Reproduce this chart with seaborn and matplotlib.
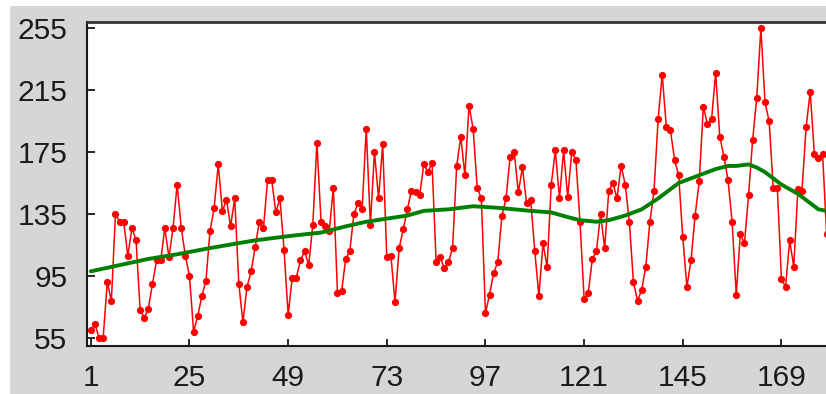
import matplotlib
matplotlib.use("Agg")
import matplotlib.pyplot as plt
from matplotlib.patches import Rectangle
import seaborn as sns
import pandas as pd

# Monthly observations (index 1..180)
values = [
    60, 64, 55, 55, 91, 79, 135, 130, 130, 108, 126, 118,
    73, 68, 74, 90, 105, 105, 126, 107, 126, 154, 126, 108,
    95, 59, 69, 82, 92, 124, 139, 167, 137, 144, 127, 145,
    90, 65, 88, 98, 114, 130, 126, 157, 157, 136, 145, 112,
    70, 94, 94, 105, 111, 102, 128, 181, 130, 127, 124, 152,
    84, 85, 106, 111, 135, 142, 138, 190, 128, 175, 145, 180,
    107, 108, 78, 113, 125, 138, 150, 149, 147, 167, 162, 168,
    104, 107, 100, 104, 113, 166, 185, 160, 205, 190, 152, 145,
    71, 83, 97, 104, 134, 145, 172, 175, 149, 165, 142, 144,
    111, 82, 116, 101, 154, 176, 145, 176, 146, 175, 170, 130,
    80, 84, 106, 111, 135, 113, 150, 155, 145, 166, 154, 130,
    91, 79, 86, 101, 130, 150, 196, 225, 191, 189, 170, 160,
    120, 88, 105, 134, 156, 204, 193, 196, 226, 185, 172, 157,
    130, 83, 122, 116, 147, 183, 210, 255, 207, 195, 152, 152,
    93, 88, 118, 101, 151, 150, 191, 214, 174, 171, 174, 122,
]
index = list(range(1, len(values) + 1))

# Smoothed trend, sampled along the series
trend_index = [1, 8, 15, 22, 30, 41, 50, 57, 63, 68, 73, 78, 82, 88, 94,
               100, 104, 108, 113, 117, 120, 124, 127, 131, 135, 139, 141,
               144, 149, 153, 156, 158, 161, 163, 165, 167, 169, 171, 173,
               176, 178, 180]
trend_values = [98, 102, 106, 109, 113, 118, 121, 123, 127, 130, 132, 134,
                137, 138, 140, 139, 138, 137, 136, 133, 131, 130, 131, 134,
                138, 145, 149, 155, 160, 164, 166, 166, 167, 165, 162, 158,
                154, 151, 148, 142, 138, 137]

x_ticks = [1, 25, 49, 73, 97, 121, 145, 169]
y_ticks = [55, 95, 135, 175, 215, 255]

series = pd.DataFrame({"t": index, "value": values})
trend = pd.DataFrame({"t": trend_index, "value": trend_values})

sns.set_style("white")
plt.rcParams["font.family"] = ["Liberation Sans", "DejaVu Sans"]

W, H = 826, 394
fig = plt.figure(figsize=(W / 100, H / 100), dpi=100, facecolor="white")
fig.patches.append(Rectangle((10 / W, 0), 1, (H - 6) / H,
                             transform=fig.transFigure, facecolor="#d6d6d6",
                             edgecolor="none", zorder=-10))

ax = fig.add_axes([87 / W, 48 / H, (W - 87) / W, 324 / H])
ax.set_zorder(5)
ax.set_facecolor("white")

sns.lineplot(data=series, x="t", y="value", ax=ax, color="#ff0000",
             linewidth=1.1, marker="o", markersize=5.2, markeredgewidth=0,
             markerfacecolor="#ff0000", zorder=2)
sns.lineplot(data=trend, x="t", y="value", ax=ax, color="#008000",
             linewidth=2.8, zorder=3)

ax.set_xlim(0.07, 179.84)
ax.set_ylim(49.8, 258.9)
ax.set_xticks(x_ticks)
ax.set_yticks(y_ticks)
ax.set_xlabel("")
ax.set_ylabel("")

ax.tick_params(axis="y", direction="in", length=6, width=1.3, pad=14,
               labelsize=21.5, colors="#1a1a1a", left=True)
ax.tick_params(axis="x", direction="in", length=5, width=1.3, pad=13,
               labelsize=21.5, colors="#1a1a1a", bottom=True)

for side in ["left", "bottom", "top"]:
    ax.spines[side].set_visible(True)
    ax.spines[side].set_color("#1a1a1a")
    ax.spines[side].set_linewidth(1.5)
ax.spines["top"].set_linewidth(2.0)
ax.spines["top"].set_color("#333333")
ax.spines["right"].set_visible(False)

fig.savefig("out.png", dpi=100, facecolor=fig.get_facecolor())
